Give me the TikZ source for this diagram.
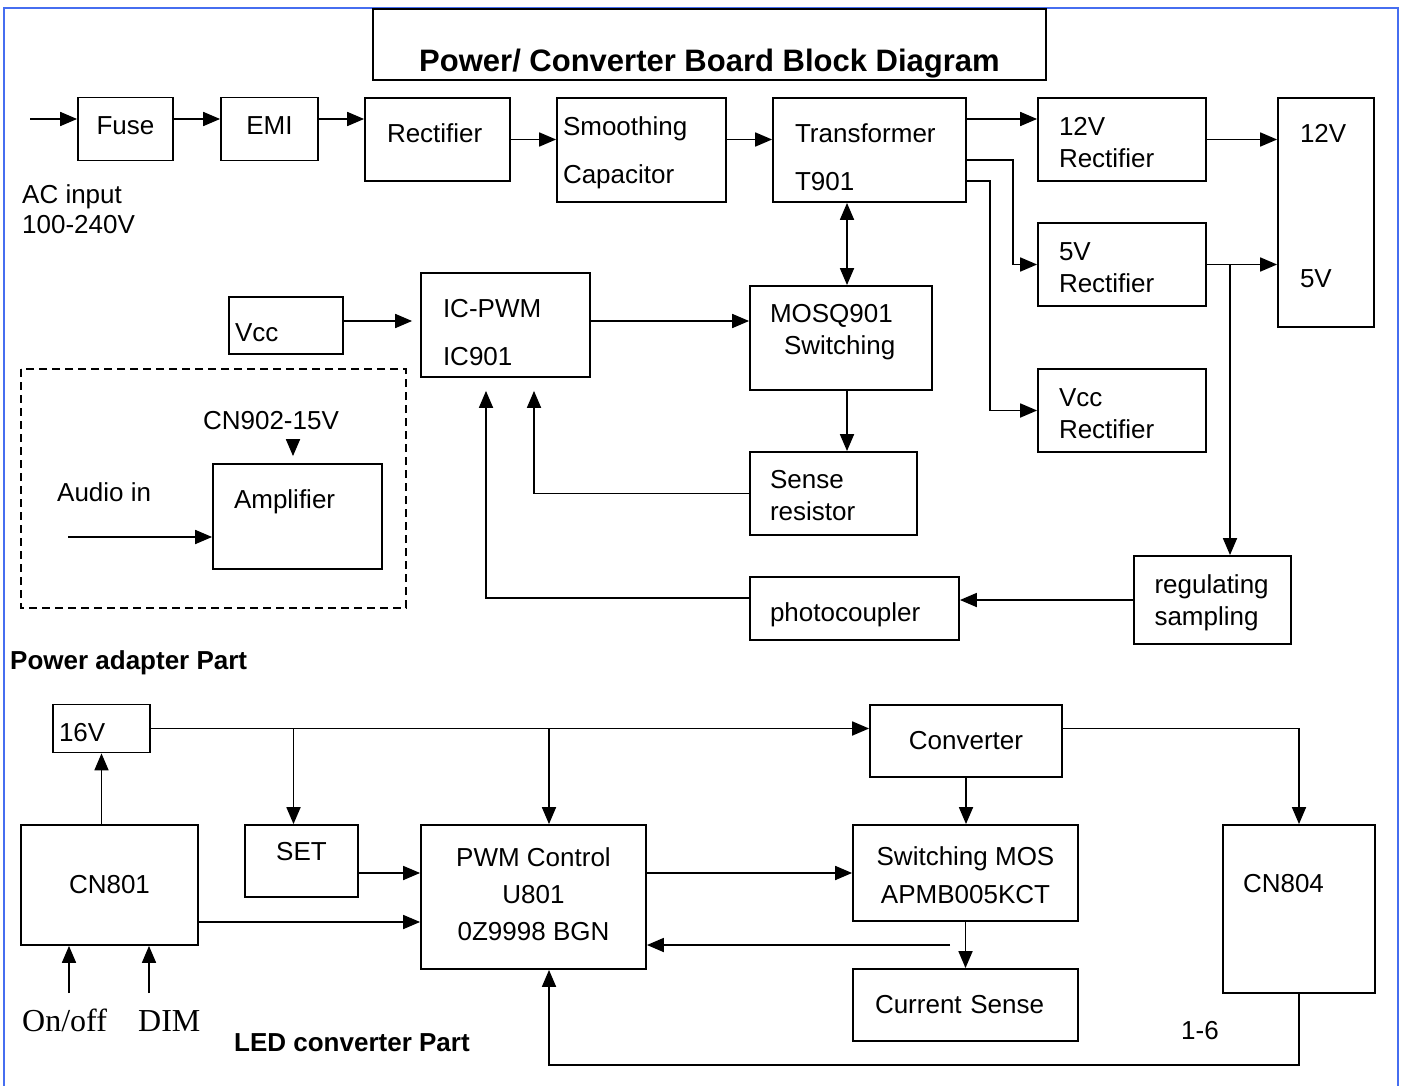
\documentclass[tikz,border=0pt]{standalone}
\usepackage{fontspec}
\setmainfont{Liberation Sans}
\newfontfamily\serifpart{Liberation Serif}
\usetikzlibrary{arrows.meta}
\definecolor{framebl}{RGB}{70,110,240}

\begin{document}
\begin{tikzpicture}[x=1pt, y=-1pt, >={Triangle[length=17pt,width=14pt]}]
	\tikzstyle{main}=[rectangle, draw=black, line width=1.8pt, inner sep=0pt, font=\fontsize{26}{30}\selectfont]
	\tikzstyle{lbl}=[inner sep=0pt, font=\fontsize{26}{30}\selectfont]
	\tikzstyle{part}=[inner sep=0pt, anchor=base west, font=\bfseries\fontsize{26}{30}\selectfont]
	\tikzstyle{sig}=[inner sep=0pt, anchor=base west, font=\serifpart\fontsize{32}{36}\selectfont]
	\tikzstyle{connect}=[->, line width=1.8pt]
	\tikzstyle{dconnect}=[<->, line width=1.8pt]
	\tikzstyle{grp}=[draw=black, line width=1.4pt, dash pattern=on 8pt off 5pt]
	\useasboundingbox (0,0) rectangle (1405,1086);
	\draw[line width=2.5pt, draw=framebl] (4,1090) -- (4,8) -- (1398,8) -- (1398,1090);
	\node[main, minimum width=673pt, minimum height=71pt, font=\bfseries\fontsize{31}{36}\selectfont] (title) at (709.5,44.5) {\rule{0pt}{61pt}Power/ Converter Board Block Diagram};
	% power adapter part
	\node[main, minimum width=95pt, minimum height=63pt] (fuse) at (125.5,129) {Fuse\rule[-6pt]{0pt}{0pt}};
	\node[main, minimum width=97pt, minimum height=63pt] (emi) at (269.5,129) {EMI\rule[-6pt]{0pt}{0pt}};
	\node[main, minimum width=145pt, minimum height=83pt, text width=101pt, align=left] (rect) at (437.5,139.5) {Rectifier\rule[-13pt]{0pt}{0pt}};
	\node[main, minimum width=169pt, minimum height=104pt, text width=157pt, align=left] (smooth) at (641.5,150) {\rule{0pt}{24pt}Smoothing\\[18pt]Capacitor};
	\node[main, minimum width=193pt, minimum height=104pt, text width=149pt, align=left] (trans) at (869.5,150) {\rule{0pt}{33pt}Transformer\\[18pt]T901};
	\node[main, minimum width=168pt, minimum height=83pt, text width=126pt, align=left] (r12) at (1122,139.5) {\rule{0pt}{24pt}12V\\[2pt]Rectifier};
	\node[main, minimum width=168pt, minimum height=83pt, text width=126pt, align=left] (r5) at (1122,264.5) {\rule{0pt}{24pt}5V\\[2pt]Rectifier};
	\node[main, minimum width=168pt, minimum height=83pt, text width=126pt, align=left] (rvcc) at (1122,410.5) {\rule{0pt}{24pt}Vcc\\[2pt]Rectifier};
	\node[main, minimum width=96pt, minimum height=229pt, text width=52pt, align=left] (out) at (1326,212.5) {12V\\[115pt]5V\rule[-14pt]{0pt}{0pt}};
	\node[main, minimum width=114pt, minimum height=57pt, text width=102pt, align=left] (vcc) at (286,325.5) {\rule{0pt}{32pt}Vcc};
	\node[main, minimum width=169pt, minimum height=104pt, text width=125pt, align=left] (icpwm) at (505.5,325) {\rule{0pt}{33pt}IC-PWM\\[18pt]IC901};
	\node[main, minimum width=182pt, minimum height=104pt, text width=142pt, align=left] (mos) at (841,338) {MOSQ901\\[2pt]\hspace*{14pt}Switching\rule[-18pt]{0pt}{0pt}};
	\node[main, minimum width=167pt, minimum height=83pt, text width=127pt, align=left] (sense) at (833.5,493.5) {\rule{0pt}{23pt}Sense\\[2pt]resistor};
	\node[main, minimum width=209pt, minimum height=63pt, text width=169pt, align=left] (photo) at (854.5,608.5) {\rule{0pt}{31pt}photocoupler};
	\node[main, minimum width=157pt, minimum height=88pt, text width=116pt, align=left] (regs) at (1212.5,600) {\rule{0pt}{25pt}regulating\\[2pt]sampling};
	\node[main, minimum width=169pt, minimum height=105pt, text width=127pt, align=left] (amp) at (297.5,516.5) {Amplifier\rule[-34pt]{0pt}{0pt}};
	\node[lbl, anchor=north west, align=left] (acin-text) at (22,184) {AC input\\[0pt]100-240V};
	\node[lbl, anchor=base] (cn902) at (271,429) {CN902-15V};
	\node[lbl, anchor=base west] (audio) at (57,501) {Audio in};
	\node[part] (pa-text) at (10,669) {Power adapter Part};
	\draw[grp] (21,369) rectangle (406,608);
	% LED converter part
	\node[main, minimum width=97pt, minimum height=48pt, text width=85pt, align=left] (v16) at (101.5,728.5) {\rule{0pt}{27pt}16V};
	\node[main, minimum width=177pt, minimum height=120pt] (cn801) at (109.5,885) {CN801};
	\node[main, minimum width=113pt, minimum height=72pt] (set) at (301.5,861) {SET\rule[-19pt]{0pt}{0pt}};
	\node[main, minimum width=225pt, minimum height=144pt, align=center] (pwm) at (533.5,897) {PWM Control\\[7pt]U801\\[7pt]0Z9998 BGN\rule[-6pt]{0pt}{0pt}};
	\node[main, minimum width=192pt, minimum height=72pt] (conv) at (966,741) {Converter};
	\node[main, minimum width=225pt, minimum height=96pt, align=center] (sw) at (965.5,873) {\rule{0pt}{24pt}Switching MOS\\[8pt]APMB005KCT};
	\node[main, minimum width=225pt, minimum height=72pt, text width=181pt, align=left] (cs) at (965.5,1005) {Current Sense};
	\node[main, minimum width=152pt, minimum height=168pt, text width=112pt, align=left] (cn804) at (1299,909) {CN804\rule[-51pt]{0pt}{0pt}};
	\node[sig] (onoff) at (22,1031) {On/off};
	\node[sig] (dim) at (138,1031) {DIM};
	\node[part] (led-text) at (234,1051) {LED converter Part};
	\node[lbl, anchor=base west] (page) at (1181,1039) {1-6};
	% connector points
	\coordinate (r1) at (0,119);
	\coordinate (acin) at (30,119);
	\coordinate (t5) at (1013,160);
	\coordinate (tv) at (990,181);
	\coordinate (br) at (1230,265);
	\coordinate (r3) at (0,321);
	\coordinate (ain) at (68,537);
	\coordinate (fbk) at (486,598);
	\coordinate (snk) at (534,493.5);
	\coordinate (tm) at ([xshift=6pt]mos.north);
	\coordinate (ms) at ([xshift=6pt]mos.south);
	\coordinate (cj) at ([xshift=22pt]cn902.south);
	\coordinate (sj) at ([xshift=-8pt]set.north);
	\coordinate (pj) at ([xshift=15.5pt]pwm.north);
	\coordinate (pb) at ([xshift=15.5pt]pwm.south);
	\coordinate (sp) at ([yshift=-12pt]set.east);
	\coordinate (cp) at ([yshift=-37pt]cn801.east);
	\coordinate (ifb) at (950,945);
	\coordinate (on) at (69,993);
	\coordinate (dm) at (149,993);
	\coordinate (lp) at (1299,1065);
	\path
		(acin) edge [connect] (acin -| fuse.west)
		(fuse.east |- r1) edge [connect] (emi.west |- r1)
		(emi.east |- r1) edge [connect] (rect.west |- r1)
		(rect.east) edge [connect] (rect.east -| smooth.west)
		(smooth.east |- rect.east) edge [connect] (trans.west |- rect.east)
		(trans.east |- r1) edge [connect] (r12.west |- r1)
		(r12.east) edge [connect] (r12.east -| out.west)
		(r5.east) edge [connect] (r5.east -| out.west)
		(br) edge [connect] (br |- regs.north)
		(regs.west) edge [connect] (regs.west -| photo.east)
		(vcc.east |- r3) edge [connect, shorten >=8pt] (icpwm.west |- r3)
		(icpwm.east |- r3) edge [connect] (mos.west |- r3)
		(tm) edge [dconnect] (tm |- trans.south)
		(ms) edge [connect] (ms |- sense.north)
		(cj) edge [connect, shorten <=12pt, shorten >=7pt] (cj |- amp.north)
		(ain) edge [connect] (ain -| amp.west)
		(v16.east) edge [connect] (v16.east -| conv.west)
		(sj |- v16.east) edge [connect] (sj)
		(pj |- v16.east) edge [connect] (pj)
		(cn801.north -| v16.south) edge [connect] (v16.south)
		(sp) edge [connect] (sp -| pwm.west)
		(cp) edge [connect] (cp -| pwm.west)
		(sw.west -| pwm.east) edge [connect] (sw.west)
		(conv.south) edge [connect] (conv.south |- sw.north)
		(sw.south) edge [connect] (cs.north)
		(ifb) edge [connect] (ifb -| pwm.east)
		(on) edge [connect] (on |- cn801.south)
		(dm) edge [connect] (dm |- cn801.south)
		;
	\draw[connect] (trans.east |- t5) -- (t5) |- (r5.west);
	\draw[connect] (trans.east |- tv) -- (tv) |- (rvcc.west);
	\draw[connect, shorten >=13pt] (photo.west |- fbk) -- (fbk) -- (fbk |- icpwm.south);
	\draw[connect, shorten >=13pt] (sense.west) -- (snk) -- (snk |- icpwm.south);
	\draw[connect] (conv.east |- v16.east) -| (cn804.north);
	\draw[connect] (cn804.south) -- (lp) -| (pb);
\end{tikzpicture}
\end{document}
